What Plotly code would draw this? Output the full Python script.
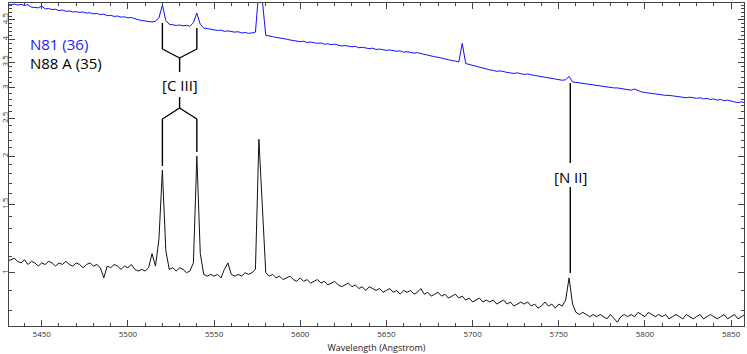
import plotly.graph_objects as go

# wavelength grid (Angstrom), 2 A sampling
wavelength = list(range(5430, 5861, 2))

# N81 (36) flux, blue
n81_flux = [
    4.93, 4.92, 4.94, 4.91, 4.93, 4.90, 4.92, 4.85, 4.84, 4.83,
    4.88, 4.80, 4.81, 4.78, 4.79, 4.75, 4.77, 4.73, 4.74, 4.71,
    4.72, 4.70, 4.71, 4.68, 4.69, 4.66, 4.67, 4.64, 4.65, 4.61,
    4.62, 4.59, 4.60, 4.57, 4.58, 4.55, 4.56, 4.52, 4.50, 4.48,
    4.47, 4.45, 4.44, 4.46, 4.55, 4.91, 4.48, 4.38, 4.37, 4.35,
    4.36, 4.34, 4.35, 4.33, 4.42, 4.68, 4.38, 4.28, 4.27, 4.25,
    4.24, 4.22, 4.23, 4.20, 4.21, 4.19, 4.18, 4.19, 4.16, 4.17,
    4.15, 4.16, 4.18, 5.40, 5.05, 4.10, 4.09, 4.07, 4.05, 4.04,
    4.02, 4.01, 3.99, 3.98, 3.96, 3.95, 3.96, 3.93, 3.94, 3.92,
    3.91, 3.92, 3.89, 3.90, 3.88, 3.89, 3.87, 3.85, 3.86, 3.84,
    3.83, 3.84, 3.81, 3.82, 3.80, 3.79, 3.80, 3.77, 3.78, 3.76,
    3.75, 3.76, 3.74, 3.73, 3.74, 3.71, 3.72, 3.70, 3.69, 3.70,
    3.68, 3.66, 3.64, 3.62, 3.61, 3.60, 3.58, 3.56, 3.55, 3.53,
    3.52, 3.50, 3.91, 3.47, 3.45, 3.43, 3.41, 3.39, 3.37, 3.36,
    3.34, 3.33, 3.31, 3.32, 3.30, 3.29, 3.28, 3.27, 3.28, 3.26,
    3.25, 3.26, 3.24, 3.23, 3.22, 3.21, 3.20, 3.19, 3.17, 3.16,
    3.15, 3.14, 3.15, 3.21, 3.11, 3.10, 3.09, 3.08, 3.07, 3.06,
    3.05, 3.04, 3.03, 3.03, 3.02, 3.01, 3.00, 3.00, 2.99, 2.98,
    2.97, 2.96, 2.98, 2.95, 2.93, 2.92, 2.91, 2.91, 2.90, 2.89,
    2.88, 2.87, 2.87, 2.86, 2.85, 2.84, 2.84, 2.83, 2.84, 2.83,
    2.82, 2.83, 2.81, 2.82, 2.80, 2.81, 2.79, 2.80, 2.78, 2.79,
    2.77, 2.76, 2.75, 2.76, 2.75, 2.74,
]

# N88 A (35) flux, black
n88a_flux = [
    1.07, 1.08, 1.09, 1.07, 1.06, 1.08, 1.05, 1.07, 1.06, 1.04,
    1.06, 1.05, 1.07, 1.06, 1.04, 1.06, 1.05, 1.07, 1.05, 1.04,
    1.06, 1.05, 1.03, 1.05, 1.06, 1.04, 1.05, 1.03, 0.97, 1.04,
    1.03, 1.05, 1.04, 1.02, 1.04, 1.03, 1.05, 1.02, 1.01, 1.02,
    1.01, 1.03, 1.12, 1.04, 1.22, 1.84, 1.14, 1.02, 1.03, 1.01,
    1.03, 1.02, 1.00, 1.01, 1.06, 2.00, 1.12, 0.99, 0.98, 0.99,
    0.98, 0.99, 0.97, 1.02, 1.06, 0.99, 0.98, 0.99, 0.98, 1.00,
    0.99, 1.00, 1.02, 2.21, 1.45, 1.00, 0.98, 0.99, 0.97, 0.98,
    0.96, 0.97, 0.98, 0.96, 0.95, 0.97, 0.95, 0.96, 0.94, 0.95,
    0.96, 0.94, 0.95, 0.93, 0.94, 0.95, 0.93, 0.92, 0.93, 0.94,
    0.92, 0.93, 0.91, 0.92, 0.90, 0.92, 0.91, 0.90, 0.91, 0.89,
    0.90, 0.91, 0.89, 0.90, 0.88, 0.90, 0.89, 0.90, 0.88, 0.89,
    0.91, 0.88, 0.89, 0.87, 0.88, 0.89, 0.87, 0.88, 0.86, 0.87,
    0.88, 0.86, 0.87, 0.85, 0.86, 0.84, 0.85, 0.86, 0.84, 0.85,
    0.84, 0.85, 0.83, 0.84, 0.85, 0.83, 0.84, 0.82, 0.83, 0.84,
    0.83, 0.84, 0.82, 0.83, 0.81, 0.82, 0.84, 0.82, 0.83, 0.81,
    0.83, 0.82, 0.85, 0.97, 0.83, 0.79, 0.78, 0.79, 0.78, 0.77,
    0.78, 0.77, 0.78, 0.77, 0.76, 0.78, 0.76, 0.745, 0.77, 0.78,
    0.77, 0.78, 0.77, 0.79, 0.78, 0.77, 0.79, 0.78, 0.77, 0.78,
    0.77, 0.78, 0.76, 0.77, 0.78, 0.77, 0.76, 0.78, 0.77, 0.76,
    0.77, 0.78, 0.76, 0.77, 0.78, 0.77, 0.76, 0.77, 0.78, 0.76,
    0.77, 0.78, 0.76, 0.77, 0.78, 0.77,
]

# identified lines
ciii_lines = [5520, 5540]
nii_line = 5756.7

y_ticks = [1, 1.5, 2, 2.5, 3, 3.5, 4, 4.5]

FONT = 'Open Sans'

fig = go.Figure()

fig.add_trace(go.Scatter(x=wavelength, y=n81_flux, mode='lines', name='N81 (36)',
                         line=dict(color='#1010ff', width=1)))
fig.add_trace(go.Scatter(x=wavelength, y=n88a_flux, mode='lines', name='N88 A (35)',
                         line=dict(color='#111111', width=1)))

# plot area in pixels: top 3, bottom 326 -> paper coords
def py(y):
    return (326 - y) / 323.0

line_style = dict(color='black', width=1.4)
c_left, c_right = ciii_lines
c_mid = (c_left + c_right) / 2

segments = [
    # [C III] upper bracket
    (c_left, 23, c_left, 49), (c_right, 28, c_right, 49),
    (c_left, 49, c_mid, 58), (c_right, 49, c_mid, 58),
    (c_mid, 58, c_mid, 72),
    # [C III] lower bracket
    (c_mid, 97, c_mid, 108),
    (c_mid, 108, c_left, 119), (c_mid, 108, c_right, 119),
    (c_left, 119, c_left, 166), (c_right, 119, c_right, 152),
    # [N II]
    (nii_line, 83, nii_line, 163), (nii_line, 187, nii_line, 273),
]
for x0, y0, x1, y1 in segments:
    fig.add_shape(type='line', xref='x', yref='paper', x0=x0, x1=x1,
                  y0=py(y0), y1=py(y1), line=line_style)

fig.add_annotation(x=c_mid, xref='x', y=py(85), yref='paper', text='[C III]',
                   xanchor='center', yanchor='middle', showarrow=False,
                   font=dict(family=FONT, size=15, color='black'))
fig.add_annotation(x=nii_line, xref='x', y=py(177), yref='paper', text='[N II]',
                   xanchor='center', yanchor='middle', showarrow=False,
                   font=dict(family=FONT, size=15, color='black'))
fig.add_annotation(x=(29 - 9) / 735, xref='paper', y=py(44), yref='paper', text='N81 (36)',
                   xanchor='left', yanchor='middle', showarrow=False, borderpad=0,
                   font=dict(family=FONT, size=15, color='#1a1aff'))
fig.add_annotation(x=(29 - 9) / 735, xref='paper', y=py(63), yref='paper', text='N88 A (35)',
                   xanchor='left', yanchor='middle', showarrow=False, borderpad=0,
                   font=dict(family=FONT, size=15, color='black'))

axis_common = dict(
    showline=True, linecolor='#444', linewidth=1, mirror='allticks',
    ticks='inside', ticklen=6, tickcolor='#444', showgrid=False, zeroline=False,
    tickfont=dict(family=FONT, size=8, color='#333'), automargin=False,
)

fig.update_layout(
    width=747, height=354,
    margin=dict(l=9, r=3, t=3, b=28),
    paper_bgcolor='white', plot_bgcolor='white',
    showlegend=False,
    font=dict(family=FONT, color='#222'),
    xaxis=dict(
        range=[5431.0, 5857.5], tick0=5450, dtick=50,
        minor=dict(dtick=10, ticks='inside', ticklen=3, tickcolor='#444'),
        title=dict(text='Wavelength (Angstrom)', font=dict(family=FONT, size=9, color='#222'), standoff=8),
        **axis_common,
    ),
    yaxis=dict(
        type='log', range=[-0.1376, 0.6964],
        tickmode='array', tickvals=y_ticks, ticktext=[str(v) for v in y_ticks],
        tickangle=-90, ticklabelstandoff=-3,
        minor=dict(tickmode='array', tickvals=[round(0.7 + 0.1 * i, 1) for i in range(43)],
                   ticks='inside', ticklen=3, tickcolor='#444'),
        **axis_common,
    ),
)

# drop the default page margin so the figure sits at the window origin
fig.write_html("out.html", config={'displayModeBar': False},
               post_script="document.body.style.margin='0';")
